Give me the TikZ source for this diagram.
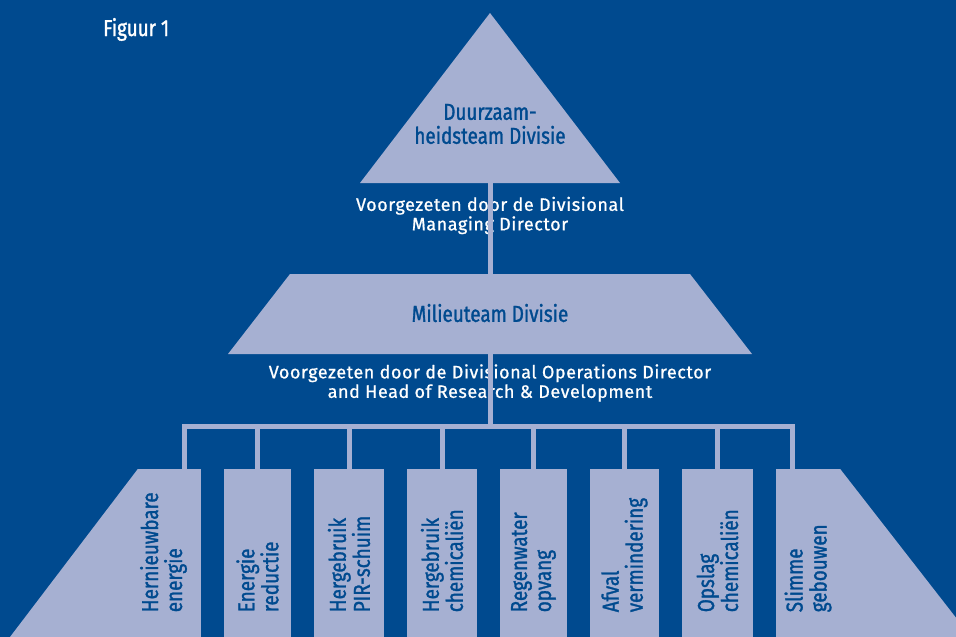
\documentclass[tikz,border=0pt]{standalone}
\usepackage{fontspec}
\setmainfont{Fira Sans}
\newfontfamily\condfont[FakeStretch=0.82, FakeBold=1.3]{Fira Sans}
\newfontfamily\notefont[LetterSpace=3, FakeBold=0.8]{Fira Sans}
\usetikzlibrary{positioning}
\definecolor{bgblue}{RGB}{0,74,143}
\definecolor{lilac}{RGB}{166,176,210}

\begin{document}
\begin{tikzpicture}[x=1pt, y=-1pt,
    teamlabel/.style={font=\condfont\fontsize{23}{24}\selectfont, text=bgblue,
      align=center, inner sep=0pt},
    note/.style={font=\notefont\fontsize{18}{19.5}\selectfont, text=white,
      align=center, inner sep=0pt},
    link/.style={draw=lilac, line width=5pt},
    pillar/.style={fill=lilac, minimum height=168pt, inner sep=0pt, anchor=north},
    pillarlabel/.style={teamlabel, rotate=90, anchor=west, align=left}]

    \fill[bgblue] (0,0) rectangle (956,637);%
    \useasboundingbox (0,0) rectangle (956,637);%

    \node [anchor=base west, inner sep=0pt, text=white,
    font=\condfont\fontsize{23}{24}\selectfont] (fig) at (103,36) {Figuur 1};%

    % Duurzaamheidsteam
    \coordinate (apex) at (490,13);%
    \coordinate (triL) at (360,183);%
    \coordinate (triR) at (620,183);%
    \coordinate (tri) at (490,183);%
    \node [note] (DuurNote) at (490,215.5) {Voorgezeten door de Divisional\\Managing
    Director};%

    % Milieuteam
    \coordinate (trapT) at (490,274);%
    \coordinate (trapB) at (490,354);%
    \node [note] (MilNote) at (490,383) {Voorgezeten door de Divisional Operations
    Director\\and Head of Research \& Development};%

    % bus
    \coordinate (bus) at (490,426);%

    % pillars
    \node [pillar, minimum width=63pt] (b1) at (169.5,469) {};%
    \node [pillar, minimum width=67pt] (b2) at (257.5,469) {};%
    \node [pillar, minimum width=70pt] (b3) at (349,469) {};%
    \node [pillar, minimum width=70pt] (b4) at (442,469) {};%
    \node [pillar, minimum width=67pt] (b5) at (533.5,469) {};%
    \node [pillar, minimum width=69pt] (b6) at (624.5,469) {};%
    \node [pillar, minimum width=71pt] (b7) at (717.5,469) {};%
    \node [pillar, minimum width=64pt] (b8) at (808,469) {};%
    \fill [lilac] (b1.north west) -- (b1.south west) -- (10,637) -- cycle;%
    \fill [lilac] (b8.north east) -- (971,637) -- (b8.south east) -- cycle;%

    % arrows
    \draw [link] (tri) -- (trapT);%
    \draw [link] (trapB) -- (bus);%
    \draw [link] ([xshift=14.5pt]b1.north) |- (bus) -| ([xshift=-16pt]b8.north);%
    \foreach \i in {2,...,7}
    \draw [link] (b\i.north) -- (b\i.north |- bus);%

    % shapes on top of the lines
    \fill [lilac] (apex) -- (triR) -- (triL) -- cycle;%
    \fill [lilac] (290,274) -- (690,274) -- (752,354) -- (228,354) -- cycle;%
    \node [teamlabel] (Duur) at (490,124) {Duurzaam-\\heidsteam Divisie};%
    \node [teamlabel] (Mil) at (490,313) {Milieuteam Divisie};%

    \node [pillarlabel] (l1) at ([xshift=-6pt, yshift=25pt]b1.south) {Hernieuwbare\\energie};%
    \node [pillarlabel] (l2) at ([yshift=25pt]b2.south) {Energie\\reductie};%
    \node [pillarlabel] (l3) at ([yshift=25pt]b3.south) {Hergebruik\\PIR-schuim};%
    \node [pillarlabel] (l4) at ([yshift=25pt]b4.south) {Hergebruik\\chemicaliën};%
    \node [pillarlabel] (l5) at ([yshift=25pt]b5.south) {Regenwater\\opvang};%
    \node [pillarlabel] (l6) at ([yshift=25pt]b6.south) {Afval\\vermindering};%
    \node [pillarlabel] (l7) at ([yshift=25pt]b7.south) {Opslag\\chemicaliën};%
    \node [pillarlabel] (l8) at ([yshift=25pt]b8.south) {Slimme\\gebouwen};%
  \end{tikzpicture}
\end{document}
